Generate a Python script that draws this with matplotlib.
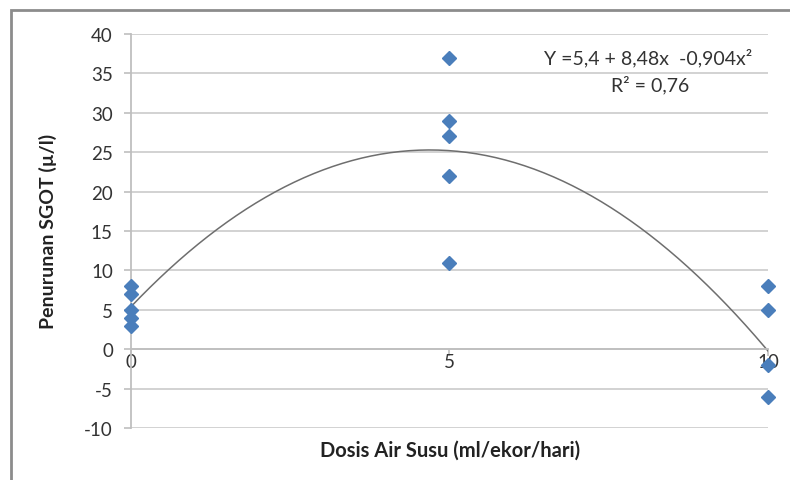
import matplotlib.pyplot as plt
import numpy as np
from matplotlib.patches import Rectangle

# data
dosis = [0, 0, 0, 0, 0, 5, 5, 5, 5, 5, 10, 10, 10, 10]
penurunan = [8, 7, 5, 4, 3, 37, 29, 27, 22, 11, 8, 5, -2, -6]
coef = [5.4, 8.48, -0.904]
x_ticks = [0, 5, 10]
y_ticks = [-10, -5, 0, 5, 10, 15, 20, 25, 30, 35, 40]

plt.rcParams['font.family'] = ['Lato', 'DejaVu Sans']
plt.rcParams['axes.unicode_minus'] = False

fig = plt.figure(figsize=(7.9, 4.81), dpi=100)
ax = fig.add_axes([0.1658, 0.108, 0.8062, 0.8192])

# outer frame of the chart
fig.patches.append(Rectangle((11 / 790, -0.05), 1.2, 1 - 11 / 481 + 0.05,
                             transform=fig.transFigure, fill=False,
                             edgecolor='#8c8c8c', linewidth=2))

for y in y_ticks:
    ax.axhline(y, color='#cfcfcf', linewidth=1.3, zorder=0)

xx = np.linspace(0, 10, 200)
yy = coef[0] + coef[1] * xx + coef[2] * xx ** 2
ax.plot(xx, yy, color='#6e6e6e', linewidth=1.1, zorder=2)

ax.plot(dosis, penurunan, linestyle='none', marker='D', markersize=7.5,
        color='#4a7ebb', zorder=3, clip_on=False)

ax.set_xlim(0, 10)
ax.set_ylim(-10, 40)
ax.set_xticks(x_ticks)
ax.set_yticks(y_ticks)

ax.spines['top'].set_visible(False)
ax.spines['right'].set_visible(False)
ax.spines['bottom'].set_position(('data', 0))
ax.spines['bottom'].set_color('#bfbfbf')
ax.spines['left'].set_color('#bfbfbf')
ax.spines['bottom'].set_linewidth(1.3)
ax.spines['left'].set_linewidth(1.3)
ax.tick_params(axis='both', colors='#bfbfbf', length=5, width=1.2,
               labelsize=13.5, labelcolor='#333333')
ax.tick_params(axis='x', pad=-2)
ax.tick_params(axis='y', pad=8)

fig.text(0.061, 0.518, 'Penurunan SGOT (µ/l)', rotation=90, ha='center',
         va='center', fontsize=14, fontweight='bold', color='#222222')
fig.text(0.57, 0.064, 'Dosis Air Susu (ml/ekor/hari)', ha='center',
         va='center', fontsize=14.5, fontweight='bold', color='#222222')

ax.text(8.12, 37.1, 'Y =5,4 + 8,48x  -0,904x²', ha='center', va='center',
        fontsize=14, color='#333333')
ax.text(8.15, 33.6, 'R² = 0,76', ha='center', va='center',
        fontsize=14, color='#333333')

fig.savefig('out.png', dpi=100)
